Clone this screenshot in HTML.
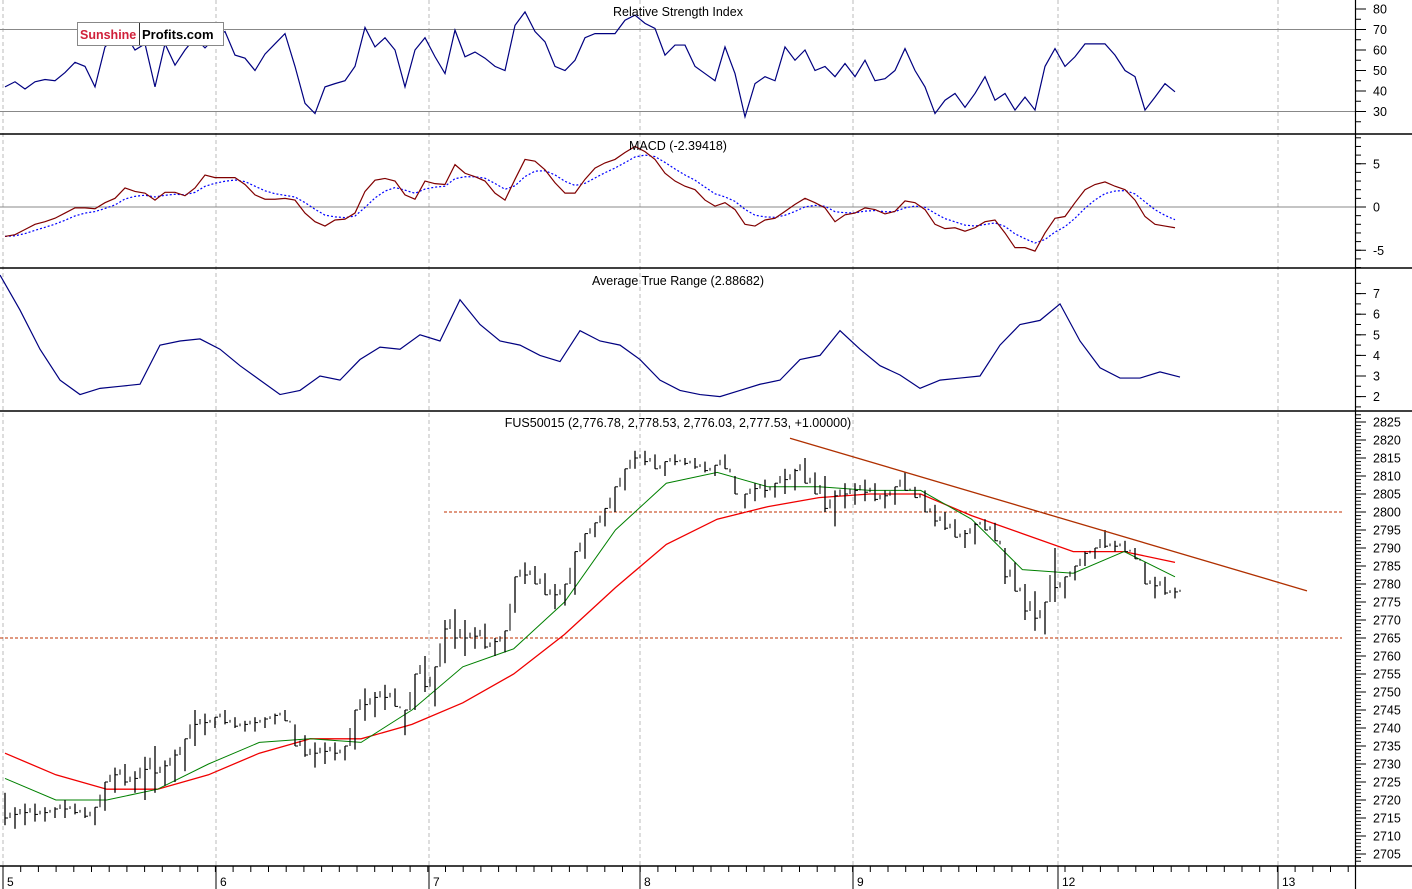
<!DOCTYPE html>
<html><head><meta charset="utf-8"><style>
body{margin:0;background:#fff;}
svg{display:block;font-family:"Liberation Sans",Arial,sans-serif;}
</style></head><body>
<svg id="c" width="1412" height="889" viewBox="0 0 1412 889"></svg>
<script>
// ---- data ----
const priceHigh=[2722,2718,2719,2719,2718,2718,2720,2719,2718,2718,2725,2729,2730,2728,2732,2735,2731,2734,2737,2745,2744,2743,2745,2743,2742,2743,2743,2744,2745,2741,2738,2736,2736,2736,2735,2745,2751,2750,2752,2751,2745,2755,2760,2757,2770,2773,2770,2768,2769,2765,2767,2782,2786,2785,2783,2780,2780,2789,2794,2797,2801,2807,2812,2817,2817,2816,2814,2816,2815,2815,2814,2813,2816,2810,2805,2808,2809,2808,2812,2812,2815,2811,2810,2806,2808,2808,2809,2808,2806,2807,2811,2807,2806,2802,2800,2798,2795,2797,2798,2797,2790,2786,2780,2778,2775,2790,2782,2785,2789,2790,2795,2792,2792,2790,2786,2782,2782,2779];
const priceLow=[2713,2712,2713,2714,2714,2715,2715,2716,2715,2713,2717,2722,2724,2722,2720,2722,2724,2725,2728,2735,2738,2740,2741,2740,2739,2739,2740,2741,2742,2735,2732,2729,2730,2731,2731,2734,2742,2743,2745,2746,2738,2745,2750,2746,2758,2762,2760,2762,2762,2760,2761,2772,2780,2780,2777,2773,2774,2777,2787,2793,2796,2800,2806,2812,2813,2812,2810,2813,2813,2812,2811,2810,2812,2805,2801,2803,2804,2804,2805,2806,2808,2805,2800,2796,2801,2802,2803,2803,2801,2802,2806,2804,2800,2796,2795,2793,2790,2791,2795,2792,2780,2778,2770,2767,2766,2775,2776,2781,2785,2787,2790,2789,2789,2787,2780,2776,2777,2776];
const maFast=[2726,2720,2720,2723,2730,2736,2737,2736,2745,2757,2762,2775,2795,2808,2811,2807,2807,2806,2806,2798,2784,2783,2789,2782];
const maSlow=[2733,2727,2723,2723,2727,2733,2737,2737,2741,2747,2755,2766,2779,2791,2798,2801.5,2804,2805,2805,2799,2794,2789,2789,2786];
const rsi=[42,44.5,41,44.5,45.6,45,49,54,52,42,61.5,66,68,60,63,42,63,52.6,60,66,61,66,69,57.5,56,50,58,63,68,52,34,29,42,43.6,45,52,71,61.5,66,60,42,60,66,56.7,48.5,69.7,56.7,59,56,52,50,72,78.6,69,64,52,50,55,66,68,68,68,74.5,77,73,70.5,57.5,62.4,62.4,52,48.5,45,61.5,48.5,27.4,43.6,47,45,61.5,55,60,50,52,47,53.4,47,55,45,46,50,60.7,50,42,29,35.5,38.8,32,38.8,47,35.5,38.8,30.7,37,30.7,52,60.7,52,56.7,63,63,63,57.5,50,47,30.7,37,43.6,39.6];
const macd=[-3.4,-3.2,-2.6,-2.0,-1.7,-1.3,-0.7,-0.1,-0.1,-0.2,0.5,1.0,2.2,1.8,1.6,0.8,1.7,1.7,1.3,2.2,3.7,3.4,3.4,3.4,2.6,1.4,0.9,0.9,1.0,0.8,-0.7,-1.7,-2.2,-1.5,-1.4,-0.7,1.8,3.1,3.3,3.0,1.4,0.9,3.0,2.7,2.6,4.9,3.9,3.5,3.0,1.6,0.8,3.2,5.5,5.3,4.3,2.8,1.6,1.6,3.2,4.5,5.1,5.5,6.3,7.0,6.4,5.5,3.9,3.0,2.4,2.0,0.8,0.1,0.5,-0.3,-2.0,-2.2,-1.5,-1.3,-0.5,0.3,1.0,0.5,-0.1,-1.7,-0.9,-0.7,-0.1,-0.3,-0.8,-0.5,0.7,0.5,-0.3,-2.0,-2.5,-2.4,-2.8,-2.4,-1.7,-1.5,-3.0,-4.7,-4.7,-5.1,-3.0,-1.3,-1.1,0.5,2.0,2.6,2.9,2.4,2.0,0.8,-1.1,-2.0,-2.2,-2.4];
const atr=[7.9,6.2,4.3,2.8,2.1,2.4,2.5,2.6,4.5,4.7,4.8,4.3,3.5,2.8,2.1,2.3,3.0,2.8,3.8,4.4,4.3,5.0,4.7,6.7,5.5,4.7,4.5,4.0,3.7,5.2,4.7,4.5,3.8,2.8,2.3,2.1,2.0,2.3,2.6,2.8,3.8,4.0,5.2,4.3,3.5,3.05,2.4,2.8,2.9,3.0,4.5,5.5,5.7,6.5,4.7,3.4,2.9,2.9,3.2,2.95];
const priceTicks=[2825,2820,2815,2810,2805,2800,2795,2790,2785,2780,2775,2770,2765,2760,2755,2750,2745,2740,2735,2730,2725,2720,2715,2710,2705];
const rsiTicks=[80,70,60,50,40,30];
const macdTicks=[5,0,-5];
const atrTicks=[7,6,5,4,3,2];
const dayLabels=["5","6","7","8","9","12","13"];
const supportLevels=[2800,2765];
const trendStart=2820.5, trendEnd=2778.1;

// ---- scales ----
const NS="http://www.w3.org/2000/svg";
const svg=document.getElementById('c');
function mk(t,a,p){const e=document.createElementNS(NS,t);for(const k in a)e.setAttribute(k,a[k]);(p||svg).appendChild(e);return e;}
const xBar=i=>5+i*10;
const xMA=j=>5+j*(1170/23);
const xAtr=i=>i*20;
const yP=v=>512+(2800-v)*3.6;
const yR=v=>29.5+(70-v)*2.05;
const yM=v=>207-v*8.65;
const yA=v=>376-(v-3)*20.6;
const gridX=[3,216,429,640,853,1058,1278];

gridX.forEach((x,i)=>{
 const g=mk('line',{x1:x,y1:0,x2:x,y2:866,stroke:'#bbb','stroke-dasharray':'4,3','stroke-width':1});
 
 
});
[[yR(70)],[yR(30)],[yM(0)]].forEach(a=>{
 const l=mk('line',{x1:0,y1:a[0],x2:1355,y2:a[0],stroke:'#888','stroke-width':1});
 
 
});
[134,268,411,866].forEach(y=>{
 const l=mk('line',{x1:0,y1:y,x2:1412,y2:y,stroke:'#000','stroke-width':1.5});
 
 
});
const ax=mk('line',{x1:1355.5,y1:0,x2:1355.5,y2:889,stroke:'#000','stroke-width':1.2});



function poly(vals,xf,yf,attrs,name){
 const p=mk('polyline',Object.assign({points:vals.map((v,i)=>xf(i)+','+yf(v)).join(' '),fill:'none'},attrs));
 
 
 return p;
}
poly(rsi,xBar,yR,{stroke:'#000080','stroke-width':1.2},'rsi-line');
const sig=[];let e=macd[0];macd.forEach((v,i)=>{e=i?e+(v-e)*0.35:v;sig.push(e);});
poly(sig,xBar,yM,{stroke:'#0000ff','stroke-width':1.2,'stroke-dasharray':'2,2'},'macd-signal-line');
poly(macd,xBar,yM,{stroke:'#800000','stroke-width':1.2},'macd-line');
poly(atr,xAtr,yA,{stroke:'#000080','stroke-width':1.2},'atr-line');
supportLevels.forEach((v,i)=>{
 const l=mk('line',{x1:i==0?444:0,y1:yP(v),x2:1342,y2:yP(v),stroke:'#c03000','stroke-width':1,'stroke-dasharray':'3,2'});
 
 
});
poly(maSlow,xMA,yP,{stroke:'#f00000','stroke-width':1.3},'ma-slow');
poly(maFast,xMA,yP,{stroke:'#008000','stroke-width':1},'ma-fast');
priceHigh.forEach((h,i)=>{
 const l=priceLow[i];const x=xBar(i);
 const b=mk('line',{x1:x,y1:yP(h),x2:x,y2:yP(l),stroke:'#000','stroke-width':1.3});
 
 
 const c=(i+1<priceHigh.length)?(priceHigh[i+1]+priceLow[i+1])/2:l+(h-l)*0.6;
 const cc=Math.max(l,Math.min(h,c));
 const t=mk('line',{x1:x,y1:yP(cc),x2:x+3,y2:yP(cc),stroke:'#000','stroke-width':1});
 
 
 const m=mk('line',{x1:x+5,y1:yP(cc),x2:x+5,y2:yP((cc+(i+1<priceHigh.length?priceHigh[i+1]:h))/2),stroke:'#000','stroke-width':1});
 
 
});
const tl=mk('line',{x1:790,y1:yP(trendStart),x2:1307,y2:yP(trendEnd),stroke:'#b03000','stroke-width':1.3});



function axis(ticks,yf,minor,lo,hi,name){
 for(let v=lo;v<=hi+1e-9;v+=minor){const y=yf(v);mk('line',{x1:1356,y1:y,x2:1361,y2:y,stroke:'#000'});}
 ticks.forEach(v=>{const y=yf(v);mk('line',{x1:1356,y1:y,x2:1366,y2:y,stroke:'#000'});
  const t=mk('text',{x:1373,y:y+4.5,'font-size':12.5,fill:'#000'});t.textContent=v;
  
  });
}
axis(priceTicks,yP,1,2703,2827,'price');
axis(rsiTicks,yR,5,25,85,'rsi');
axis(macdTicks,yM,1,-7,8,'macd');
axis(atrTicks,yA,0.5,1.5,7.5,'atr');
for(let x=3;x<1355;x+=17.7){mk('line',{x1:x,y1:866,x2:x,y2:872,stroke:'#000'});}
gridX.forEach((x,i)=>{mk('line',{x1:x,y1:866,x2:x,y2:889,stroke:'#000'});
 const t=mk('text',{x:x+4,y:886,'font-size':12,fill:'#000'});t.textContent=dayLabels[i];
 
 });
[["Relative Strength Index",16,'rsi-title'],["MACD (-2.39418)",150,'macd-title'],["Average True Range (2.88682)",285,'atr-title'],["FUS50015 (2,776.78, 2,778.53, 2,776.03, 2,777.53, +1.00000)",427,'price-title']].forEach(a=>{
 const t=mk('text',{x:678,y:a[1],'font-size':12.5,'text-anchor':'middle',fill:'#000'});t.textContent=a[0];
 
 
});
const lg=mk('g',{});


mk('rect',{x:77.5,y:22.5,width:146,height:23,fill:'#fff',stroke:'#888'},lg);
mk('line',{x1:139.5,y1:23,x2:139.5,y2:45,stroke:'#333'},lg);
const t1=mk('text',{x:80,y:39,'font-size':12.5,'font-weight':'bold',fill:'#d0203a'},lg);t1.textContent="Sunshine";
const t2=mk('text',{x:142,y:39,'font-size':13,'font-weight':'bold',fill:'#000'},lg);t2.textContent="Profits.com";
</script>
</body></html>
